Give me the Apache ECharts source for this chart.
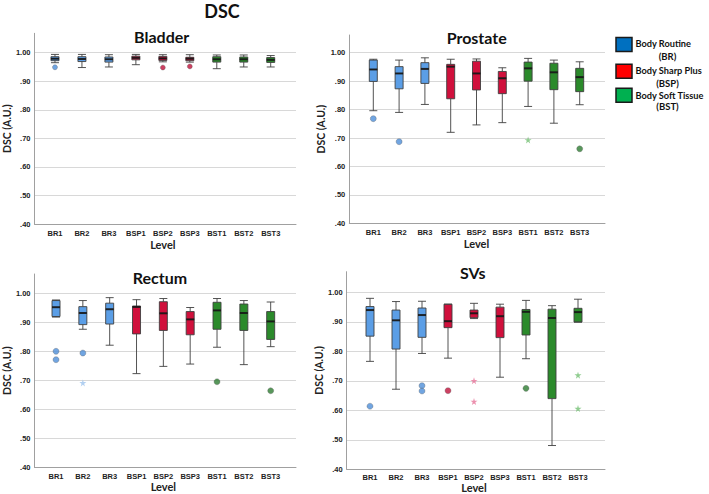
<!DOCTYPE html>
<html>
<head>
<meta charset="utf-8">
<script src="https://cdn.jsdelivr.net/npm/echarts@6.0.0/dist/echarts.min.js"></script>
<style>html,body{margin:0;padding:0;background:#fff;}#main{width:709px;height:494px;}</style>
</head>
<body>
<div id="main"></div>
<script>
// ---------- DATA ----------
const categories = ['BR1','BR2','BR3','BSP1','BSP2','BSP3','BST1','BST2','BST3'];
const yTicks = [0.4,0.5,0.6,0.7,0.8,0.9,1.0];
const legendLabels = [['Body Routine','(BR)'],['Body Sharp Plus','(BSP)'],['Body Soft Tissue','(BST)']];
const panelTitles = ['Bladder','Prostate','Rectum','SVs'];

// [lower whisker, Q1, median, Q3, upper whisker]
const bladderBox = [
  [0.965,0.972,0.979,0.986,0.994],
  [0.948,0.969,0.978,0.986,0.994],
  [0.950,0.967,0.977,0.985,0.993],
  [0.958,0.975,0.982,0.988,0.994],
  [0.968,0.973,0.980,0.987,0.993],
  [0.967,0.972,0.979,0.984,0.993],
  [0.944,0.967,0.977,0.986,0.992],
  [0.950,0.967,0.977,0.985,0.992],
  [0.950,0.966,0.975,0.983,0.990]
];
const bladderCircles = [['BR1',0.949],['BSP2',0.948],['BSP3',0.952]];
const bladderStars = [];

const prostateBox = [
  [0.796,0.899,0.941,0.974,0.977],
  [0.790,0.873,0.927,0.951,0.974],
  [0.818,0.892,0.943,0.965,0.982],
  [0.720,0.838,0.951,0.959,0.977],
  [0.746,0.869,0.927,0.970,0.978],
  [0.754,0.856,0.910,0.934,0.947],
  [0.811,0.900,0.945,0.967,0.980],
  [0.752,0.870,0.931,0.963,0.974],
  [0.817,0.863,0.914,0.945,0.968]
];
const prostateCircles = [['BR1',0.768],['BR2',0.687],['BST3',0.662]];
const prostateStars = [['BST1',0.693]];

const rectumBox = [
  [0.918,0.920,0.952,0.975,0.977],
  [0.876,0.892,0.932,0.954,0.975],
  [0.821,0.894,0.945,0.966,0.985],
  [0.723,0.860,0.953,0.956,0.978],
  [0.748,0.872,0.931,0.971,0.982],
  [0.756,0.857,0.910,0.937,0.951],
  [0.814,0.876,0.941,0.969,0.982],
  [0.754,0.872,0.932,0.963,0.975],
  [0.816,0.841,0.903,0.937,0.970]
];
const rectumCircles = [['BR1',0.800],['BR1',0.771],['BR2',0.794],['BST1',0.695],['BST3',0.664]];
const rectumStars = [['BR2',0.691]];

const svsBox = [
  [0.764,0.850,0.939,0.951,0.979],
  [0.669,0.806,0.904,0.939,0.968],
  [0.791,0.846,0.922,0.946,0.969],
  [0.775,0.879,0.901,0.959,0.959],
  [0.910,0.913,0.928,0.939,0.962],
  [0.710,0.845,0.918,0.949,0.959],
  [0.773,0.854,0.933,0.941,0.972],
  [0.477,0.637,0.912,0.942,0.954],
  [0.898,0.898,0.932,0.945,0.976]
];
const svsCircles = [['BR1',0.611],['BR3',0.681],['BR3',0.663],['BSP1',0.664],['BST1',0.672]];
const svsStars = [['BSP2',0.698],['BSP2',0.627],['BST3',0.717],['BST3',0.603]];

// ---------- STYLE / LAYOUT ----------
const groupColors = {
  BR:  {box:'#5b9ee6', circle:'#4d8fd9', star:'#9fc4ee', legend:'#0070c0'},
  BSP: {box:'#d0103c', circle:'#bf123b', star:'#e7749a', legend:'#ff0000'},
  BST: {box:'#2b8a2b', circle:'#2e7d32', star:'#74c074', legend:'#00b050'}
};
const groupOf = c => c.replace(/\d+$/, '');

const layouts = [
  {axisL:31.7, axisR:296, top:33.3, bottom:224, tick1:52.7, catL:41.5, catR:284.2, tx:161.7, ty:36, nameGap:18, levelGap:15, cs:5},
  {axisL:349.3, axisR:605, top:35, bottom:223.3, tick1:52.7, catL:360.4, catR:592.6, tx:476.7, ty:37, nameGap:22, levelGap:15, cs:6},
  {axisL:31.7, axisR:296, top:274, bottom:467.3, tick1:293.3, catL:42.6, catR:284.1, tx:160, ty:277.5, nameGap:20, levelGap:14, cs:6},
  {axisL:346.7, axisR:605, top:271.7, bottom:469.3, tick1:292.3, catL:357, catR:591, tx:472.7, ty:272, nameGap:22, levelGap:13, cs:6}
];
const panelData = [
  [bladderBox, bladderCircles, bladderStars],
  [prostateBox, prostateCircles, prostateStars],
  [rectumBox, rectumCircles, rectumStars],
  [svsBox, svsCircles, svsStars]
];

const STAR = 'path://M50,2 L61,38 L98,38 L68,60 L79,96 L50,74 L21,96 L32,60 L2,38 L39,38 Z';
const tickFmt = v => {
  if (!yTicks.some(t => Math.abs(t - v) < 1e-6)) return '';
  const s = v.toFixed(2);
  return v < 1 ? s.replace(/^0/, '') : s;
};

const option = {
  animation: false,
  grid: [], xAxis: [], yAxis: [], series: [], graphic: []
};

layouts.forEach((p, i) => {
  const [box, circles, stars] = panelData[i];
  const M = 1 + (p.tick1 - p.top) / ((p.bottom - p.tick1) / 0.6);
  const h = p.bottom - p.top;
  option.grid.push({left:p.axisL, top:p.top, width:p.axisR - p.axisL, height:h});
  option.grid.push({left:p.catL, top:p.top, width:p.catR - p.catL, height:h});
  option.xAxis.push({gridIndex:2*i, type:'value', min:0, max:1,
    axisLine:{show:true, lineStyle:{color:'#a0a0a0', width:1}},
    axisTick:{show:false}, axisLabel:{show:false}, splitLine:{show:false}});
  option.xAxis.push({gridIndex:2*i+1, type:'category', data:categories,
    axisLine:{show:false}, axisTick:{show:false},
    axisLabel:{interval:0, margin:5, fontSize:7.5, fontWeight:'bold', color:'#222', fontFamily:'Liberation Sans, Arial'},
    name:'Level', nameLocation:'middle', nameGap:p.levelGap,
    nameTextStyle:{fontSize:11, fontWeight:'bold', color:'#222', fontFamily:'Lato'}});
  option.yAxis.push({gridIndex:2*i, type:'value', min:0.4, max:M, interval:0.1,
    axisLine:{show:true, lineStyle:{color:'#a0a0a0', width:1}},
    axisTick:{show:false},
    axisLabel:{formatter:tickFmt, showMaxLabel:false, margin:4, fontSize:7.5, fontWeight:'bold', color:'#222', fontFamily:'Liberation Sans, Arial'},
    splitLine:{show:true, showMaxLine:false, showMinLine:false, lineStyle:{color:'#d8d8d8', width:1}},
    name:'DSC (A.U.)', nameLocation:'middle', nameGap:p.nameGap,
    nameTextStyle:{fontSize:10.5, fontWeight:'bold', color:'#222', fontFamily:'Lato'}});
  option.yAxis.push({gridIndex:2*i+1, type:'value', min:0.4, max:M, show:false});

  option.series.push({
    type:'boxplot', xAxisIndex:2*i+1, yAxisIndex:2*i+1, boxWidth:[8,8],
    data: box.map((d, j) => ({value:d, itemStyle:{color:groupColors[groupOf(categories[j])].box, borderColor:'#404040', borderWidth:0.9}})),
    emphasis:{disabled:true}, z:2
  });
  option.series.push({
    type:'scatter', xAxisIndex:2*i+1, yAxisIndex:2*i+1, symbol:'rect', symbolSize:[8,2],
    data: box.map((d, j) => [categories[j], d[2]]),
    itemStyle:{color:'#111'}, z:4, silent:true
  });
  option.series.push({
    type:'scatter', xAxisIndex:2*i+1, yAxisIndex:2*i+1, symbol:'circle', symbolSize:p.cs,
    data: circles.map(([c, v]) => ({value:[c, v], itemStyle:{color:groupColors[groupOf(c)].circle, borderColor:'#555', borderWidth:0.4}})),
    z:4, silent:true
  });
  option.series.push({
    type:'scatter', xAxisIndex:2*i+1, yAxisIndex:2*i+1, symbol:STAR, symbolSize:7,
    data: stars.map(([c, v]) => ({value:[c, v], itemStyle:{color:groupColors[groupOf(c)].star}})),
    z:4, silent:true
  });

  option.graphic.push({type:'text', x:p.tx, y:p.ty, silent:true,
    style:{text:panelTitles[i], fill:'#111', font:'bold 16px Lato', textAlign:'center', textVerticalAlign:'middle'}});
});

option.graphic.push({type:'text', x:222, y:11, silent:true,
  style:{text:'DSC', fill:'#111', font:'bold 18px Lato', textAlign:'center', textVerticalAlign:'middle'}});

const legendY = [[37.5, 43.3, 56.7], [64.3, 70, 83.3], [88.3, 95.7, 106.7]];
['BR','BSP','BST'].forEach((g, k) => {
  const [ry, t1, t2] = legendY[k];
  option.graphic.push({type:'rect', silent:true, shape:{x:616, y:ry, width:16, height:14},
    style:{fill:groupColors[g].legend, stroke:'#1a1a1a', lineWidth:1.5}});
  option.graphic.push({type:'text', x:635.5, y:t1, silent:true,
    style:{text:legendLabels[k][0], fill:'#111', font:'bold 9.2px Lato', textAlign:'left', textVerticalAlign:'middle'}});
  option.graphic.push({type:'text', x:667.5, y:t2, silent:true,
    style:{text:legendLabels[k][1], fill:'#111', font:'bold 9.5px Lato', textAlign:'center', textVerticalAlign:'middle'}});
});

const chart = echarts.init(document.getElementById('main'), null, {renderer:'svg'});
chart.setOption(option);
</script>
</body>
</html>
